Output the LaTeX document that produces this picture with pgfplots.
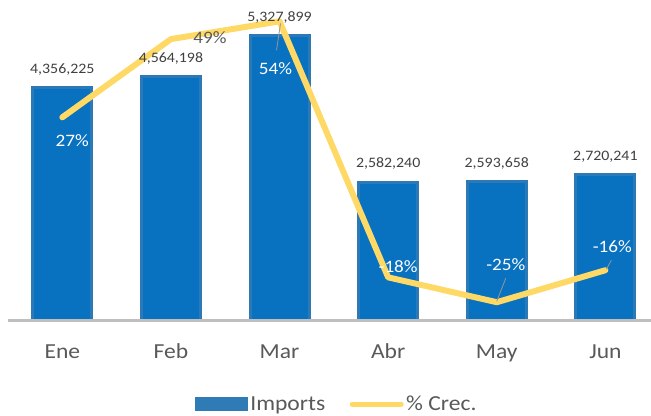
\documentclass[border=0pt]{standalone}
\usepackage{fontspec}
\setmainfont{Carlito}[FakeStretch=1.1]
\usepackage{pgfplots}
\pgfplotsset{compat=1.18}
\usepackage{pgfplotstable}
\definecolor{barMid}{RGB}{8,113,192}
\definecolor{barEdge}{RGB}{95,135,170}
\definecolor{lineY}{RGB}{255,217,102}
\definecolor{txt}{RGB}{89,89,89}
\definecolor{lbl}{RGB}{64,64,64}
\definecolor{axg}{RGB}{191,191,191}
\definecolor{lead}{RGB}{150,150,150}

\pgfplotstableread{
x y label
0 4356225 4,356,225
1 4564198 4,564,198
2 5327899 5,327,899
3 2582240 2,582,240
4 2593658 2,593,658
5 2720241 2,720,241
}\imports
\pgfplotstableread{
x p
0 27
1 49
2 54
3 -18
4 -25
5 -16
}\crec

\pgfplotsset{base/.style={
 scale only axis, width=643bp, height=320bp,
 xmin=-0.5, xmax=5.42, clip=false}}

\begin{document}
\begin{tikzpicture}
\begin{axis}[base, ymin=0, ymax=6000000,
 axis x line*=bottom, axis y line=none,
 x axis line style={draw=axg, line width=3bp},
 xtick={0,...,5}, xticklabels={Ene,Feb,Mar,Abr,May,Jun},
 major tick length=0pt,
 xticklabel style={font=\fontsize{21.5}{24}\selectfont, text=txt, anchor=base, yshift=-38bp, inner sep=0pt},
 ytick=\empty,
 ybar, bar width=59bp,
 axis on top,
]
\addplot[draw=barEdge!40!barMid, line width=3bp, fill=barMid]
  table[x=x, y=y]{\imports};
\end{axis}
\begin{axis}[base, ymin=-30, ymax=60,
 hide axis,
 legend columns=2,
 legend style={at={(0.512,-0.2625)}, anchor=center, draw=none, fill=none,
   font=\fontsize{21.5}{24}\selectfont, text=txt,
   nodes={inner sep=2.5bp},
   /tikz/every even column/.append style={column sep=22bp}},
]
\addlegendimage{legend image code/.code={\fill[barMid!55!barEdge] (0bp,-6.5bp) rectangle (52bp,6.5bp);}}
\addlegendentry{Imports}
\addplot[lineY, line width=6bp, line join=round, line cap=round,
  legend image code/.code={\draw[lineY, line width=5bp, line cap=round] (2.5bp,0bp) -- (51.5bp,0bp);}]
  table[x=x, y=p]{\crec};
\addlegendentry{\% Crec.}
\draw[lead, line width=0.8bp] (axis cs:2,54) ++(1bp,-2bp) -- ++(-4bp,-27bp);
\draw[lead, line width=0.8bp] (axis cs:4,-25) ++(0bp,1bp) -- ++(9bp,23bp);
\draw[lead, line width=0.8bp] (axis cs:5,-16) ++(1bp,1bp) -- ++(5bp,9bp);
\begin{scope}[every node/.style={font=\fontsize{17.5}{21}\selectfont, inner sep=0pt}]
\node[white] at (axis cs:0,27) [xshift=10bp, yshift=-23bp] {27\%};
\node[txt] at (axis cs:1,49) [xshift=39bp, yshift=1bp] {49\%};
\node[white] at (axis cs:2,54) [xshift=-4bp, yshift=-47bp] {54\%};
\node[white] at (axis cs:3,-18) [xshift=10bp, yshift=11bp] {-18\%};
\node[white] at (axis cs:4,-25) [xshift=9bp, yshift=38bp] {-25\%};
\node[white] at (axis cs:5,-16) [xshift=7bp, yshift=24bp] {-16\%};
\end{scope}
\end{axis}
\begin{axis}[base, ymin=0, ymax=6000000, hide axis, ybar, bar width=59bp]
\addplot[draw=none, fill=none,
  nodes near coords, point meta=explicit symbolic,
  every node near coord/.append style={font=\fontsize{14.5}{17}\selectfont, text=lbl, anchor=base, yshift=14.5bp, inner sep=0pt}]
  table[x=x, y=y, meta=label]{\imports};
\end{axis}
\pgfresetboundingbox
\path (-8bp,-96bp) rectangle (643bp,320bp);
\end{tikzpicture}
\end{document}
